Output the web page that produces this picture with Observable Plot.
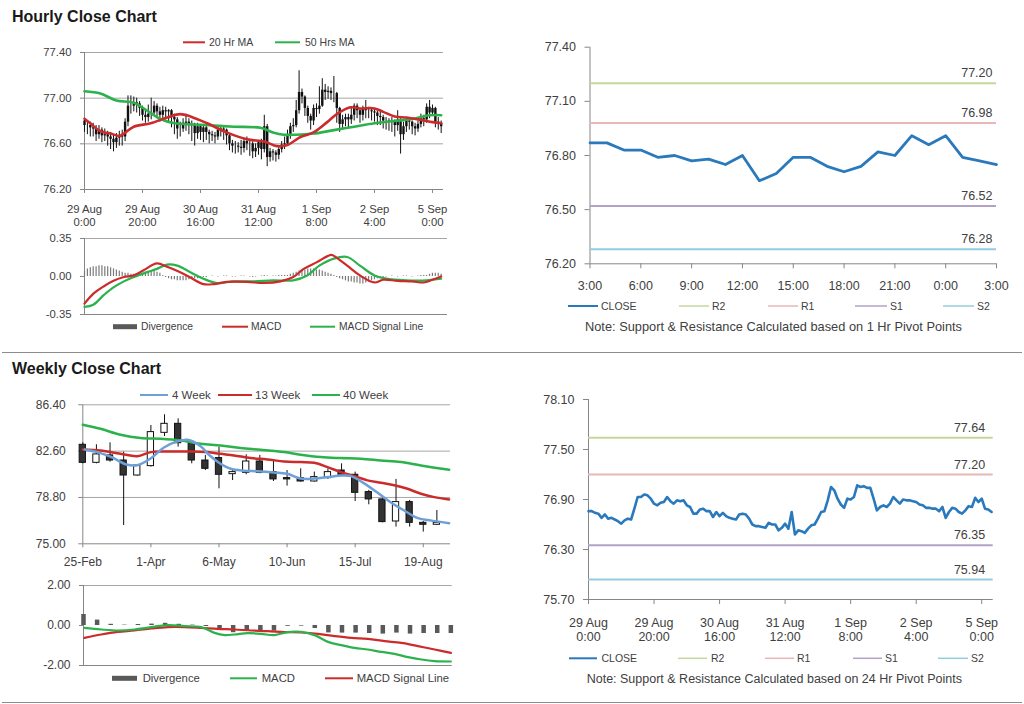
<!DOCTYPE html>
<html>
<head>
<meta charset="utf-8">
<script src="https://cdn.jsdelivr.net/npm/d3@7"></script>
<script src="https://cdn.jsdelivr.net/npm/@observablehq/plot@0.6"></script>
<style>
  html, body { margin: 0; padding: 0; background: #fff; }
  #root { position: relative; width: 1024px; height: 704px; background: #fff; overflow: hidden; }
  #root svg { position: absolute; overflow: visible; }
</style>
</head>
<body>
<div id="root"></div>
<script>
// ---------------- DATA ----------------
// Hourly series (29 Aug 0:00 .. 5 Sep 3:00), 124 bars
const hourOpen0 = 76.80;
const hourClose = [
  76.76, 76.76, 76.74, 76.73, 76.68, 76.72, 76.67, 76.68, 76.66, 76.64,
  76.61, 76.65, 76.67, 76.66, 76.79, 76.93, 76.93, 76.96, 76.95, 76.91,
  76.85, 76.83, 76.86, 76.87, 76.93, 76.88, 76.85, 76.89, 76.88, 76.89,
  76.83, 76.81, 76.73, 76.73, 76.78, 76.79, 76.76, 76.76, 76.69, 76.75,
  76.70, 76.74, 76.70, 76.68, 76.67, 76.66, 76.72, 76.73, 76.72, 76.67,
  76.60, 76.58, 76.58, 76.57, 76.56, 76.62, 76.60, 76.60, 76.53, 76.56,
  76.61, 76.55, 76.75, 76.48, 76.53, 76.52, 76.50, 76.55, 76.59, 76.60,
  76.67, 76.75, 76.76, 76.89, 77.05, 77.01, 76.91, 76.84, 76.80, 76.91,
  76.90, 76.93, 77.07, 77.05, 77.06, 77.04, 77.04, 76.91, 76.77, 76.81,
  76.83, 76.81, 76.85, 76.93, 76.89, 76.85, 76.90, 76.89, 76.89, 76.88,
  76.87, 76.84, 76.83, 76.80, 76.80, 76.79, 76.79, 76.76, 76.81, 76.68,
  76.75, 76.80, 76.79, 76.75, 76.73, 76.77, 76.82, 76.81, 76.92, 76.87,
  76.91, 76.79, 76.78, 76.75
];
const hourHigh = [
  76.82, 76.80, 76.79, 76.78, 76.76, 76.76, 76.74, 76.73, 76.71, 76.70,
  76.68, 76.69, 76.71, 76.72, 76.82, 77.02, 77.02, 77.01, 77.00, 76.97,
  76.93, 76.90, 76.94, 77.00, 76.97, 76.95, 76.92, 76.93, 76.92, 76.90,
  76.90, 76.86, 76.83, 76.79, 76.82, 76.86, 76.82, 76.80, 76.78, 76.78,
  76.77, 76.77, 76.76, 76.72, 76.71, 76.70, 76.75, 76.76, 76.75, 76.73,
  76.68, 76.63, 76.62, 76.61, 76.63, 76.65, 76.66, 76.63, 76.62, 76.60,
  76.63, 76.64, 76.85, 76.77, 76.56, 76.55, 76.54, 76.58, 76.62, 76.66,
  76.72, 76.78, 76.82, 76.98, 77.24, 77.08, 77.02, 76.93, 76.86, 76.94,
  76.95, 77.10, 77.17, 77.12, 77.10, 77.09, 77.19, 77.05, 76.92, 76.85,
  76.86, 76.86, 76.92, 76.95, 76.95, 76.91, 76.93, 76.98, 76.92, 76.91,
  76.91, 76.89, 76.88, 76.85, 76.83, 76.82, 76.83, 76.81, 76.89, 76.82,
  76.79, 76.83, 76.82, 76.80, 76.78, 76.80, 76.86, 76.85, 76.95, 76.98,
  76.94, 76.92, 76.83, 76.80
];
const hourLow = [
  76.70, 76.68, 76.66, 76.66, 76.62, 76.64, 76.61, 76.62, 76.58, 76.55,
  76.53, 76.56, 76.58, 76.58, 76.62, 76.75, 76.86, 76.88, 76.87, 76.84,
  76.80, 76.78, 76.79, 76.81, 76.84, 76.82, 76.79, 76.80, 76.81, 76.79,
  76.74, 76.68, 76.64, 76.66, 76.70, 76.71, 76.68, 76.62, 76.58, 76.64,
  76.63, 76.61, 76.63, 76.60, 76.62, 76.60, 76.63, 76.66, 76.63, 76.59,
  76.54, 76.52, 76.51, 76.52, 76.50, 76.52, 76.54, 76.49, 76.47, 76.48,
  76.50, 76.46, 76.52, 76.40, 76.44, 76.45, 76.44, 76.46, 76.52, 76.55,
  76.58, 76.64, 76.70, 76.74, 76.86, 76.95, 76.84, 76.78, 76.72, 76.76,
  76.83, 76.86, 76.92, 76.98, 76.99, 76.98, 76.96, 76.78, 76.70, 76.72,
  76.75, 76.74, 76.77, 76.80, 76.82, 76.78, 76.80, 76.82, 76.82, 76.80,
  76.79, 76.76, 76.76, 76.73, 76.72, 76.71, 76.70, 76.66, 76.71, 76.51,
  76.63, 76.70, 76.72, 76.68, 76.67, 76.70, 76.74, 76.75, 76.78, 76.82,
  76.84, 76.74, 76.72, 76.69
];
const ma20X = [0, 2, 5.5, 9, 12, 13.6, 17, 22.8, 28.5, 33, 36.5, 42.3, 49, 56, 62, 66.4, 70, 74.5, 79, 83.7, 87, 91.7, 95, 100, 103, 107, 111, 116, 120, 123];
const ma20Y = [76.82, 76.78, 76.71, 76.69, 76.67, 76.69, 76.75, 76.78, 76.83, 76.86, 76.84, 76.78, 76.70, 76.64, 76.62, 76.58, 76.59, 76.66, 76.70, 76.79, 76.86, 76.92, 76.91, 76.91, 76.88, 76.84, 76.83, 76.81, 76.79, 76.78];
const ma50X = [0, 5.5, 11, 17, 21.6, 26, 31, 38, 44.6, 51.5, 60.7, 65, 68.7, 73, 79, 86, 93, 100, 107, 113.6, 119, 123];
const ma50Y = [77.06, 77.04, 76.98, 76.96, 76.89, 76.82, 76.78, 76.77, 76.76, 76.75, 76.74, 76.70, 76.68, 76.68, 76.69, 76.72, 76.75, 76.78, 76.80, 76.82, 76.85, 76.85];
const hourTickIdx = [0, 20, 40, 60, 80, 100, 120];
const hourTickLabels = ["29 Aug\n0:00", "29 Aug\n20:00", "30 Aug\n16:00", "31 Aug\n12:00", "1 Sep\n8:00", "2 Sep\n4:00", "5 Sep\n0:00"];
const hourYTicks = [76.2, 76.6, 77.0, 77.4];

// Hourly MACD
const hDivergence = [
  0.05, 0.07, 0.08, 0.09, 0.09, 0.10, 0.10, 0.09, 0.09, 0.08,
  0.07, 0.06, 0.05, 0.04, 0.03, 0.03, 0.02, 0.02, 0.02, 0.03,
  0.03, 0.04, 0.04, 0.05, 0.05, 0.04, 0.03, 0.01, -0.01, -0.02,
  -0.03, -0.03, -0.04, -0.04, -0.04, -0.04, -0.03, -0.03, -0.02, -0.02,
  -0.01, -0.01, -0.01, 0.00, 0.005, 0.00, -0.005, 0.00, 0.005, 0.005,
  0.00, -0.005, -0.005, 0.00, 0.005, 0.005, 0.00, -0.005, -0.01, -0.005,
  0.00, 0.005, 0.01, 0.005, 0.00, 0.005, 0.005, 0.01, 0.01, 0.01,
  0.01, 0.02, 0.03, 0.04, 0.05, 0.06, 0.06, 0.07, 0.07, 0.07,
  0.06, 0.06, 0.05, 0.04, 0.03, 0.02, 0.01, -0.01, -0.02, -0.03,
  -0.04, -0.05, -0.05, -0.06, -0.06, -0.07, -0.07, -0.06, -0.05, -0.04,
  -0.03, -0.02, -0.01, -0.01, -0.005, 0.00, 0.005, 0.00, -0.005, 0.00,
  0.005, 0.005, 0.00, -0.005, 0.00, 0.005, 0.01, 0.01, 0.01, 0.02,
  0.03, 0.03, 0.03, 0.02
];
const hMacdX = [0, 3, 6.7, 10, 13.6, 17, 20.5, 25, 28.5, 33, 36.5, 41, 44.6, 49, 56, 62, 67.6, 72, 75.6, 80, 85, 86, 90.6, 95, 100, 103, 108, 113, 117, 120, 123];
const hMacdY = [-0.25, -0.16, -0.09, -0.04, -0.005, 0.01, 0.06, 0.12, 0.09, 0.04, -0.01, -0.07, -0.07, -0.05, -0.05, -0.06, -0.045, -0.005, 0.07, 0.13, 0.20, 0.19, 0.10, 0.01, -0.055, -0.03, -0.04, -0.045, -0.055, -0.03, 0.00];
const hSignalX = [0, 3, 6.7, 10, 13.6, 17, 21.6, 25, 28.5, 32, 36.5, 41, 45.7, 51.5, 58.4, 65, 72, 76.8, 81, 86, 90.6, 95, 100, 104, 111, 118, 123];
const hSignalY = [-0.28, -0.26, -0.17, -0.10, -0.045, -0.005, 0.04, 0.07, 0.11, 0.10, 0.04, -0.02, -0.06, -0.045, -0.045, -0.035, -0.035, 0.01, 0.10, 0.165, 0.18, 0.10, 0.01, -0.02, -0.035, -0.035, -0.02];
const hMacdTicks = [-0.35, 0, 0.35];

// 1 Hr pivot chart (last 24 hours)
const pivotHourClose = [76.87, 76.87, 76.83, 76.83, 76.79, 76.80, 76.77, 76.78, 76.75, 76.80, 76.66, 76.70, 76.79, 76.79, 76.74, 76.71, 76.74, 76.82, 76.80, 76.91, 76.86, 76.91, 76.79, 76.77, 76.75];
const pivotHourTickIdx = [0, 3, 6, 9, 12, 15, 18, 21, 24];
const pivotHourTickLabels = ["3:00", "6:00", "9:00", "12:00", "15:00", "18:00", "21:00", "0:00", "3:00"];
const pivotHourYTicks = [76.2, 76.5, 76.8, 77.1, 77.4];
const levelNames = ["R2", "R1", "S1", "S2"];
const levelColors = ["#c4d79b", "#e6b9b8", "#b3a2c7", "#93cddd"];
const levels1Hr = [77.20, 76.98, 76.52, 76.28];
const levels24Hr = [77.64, 77.20, 76.35, 75.94];
const pivotDayYTicks = [75.7, 76.3, 76.9, 77.5, 78.1];

// Weekly candles (25-Feb .. 26-Aug)
const weekOpen  = [83.12, 81.64, 82.25, 81.83, 80.60, 81.37, 84.10, 84.84, 83.20, 81.83, 82.03, 80.71, 80.82, 81.75, 80.88, 80.39, 80.39, 80.11, 80.39, 81.01, 80.66, 79.24, 78.64, 76.83, 78.42, 76.72, 76.56];
const weekClose = [81.64, 82.33, 81.83, 80.60, 81.42, 84.16, 84.84, 83.25, 81.83, 81.15, 80.66, 80.88, 81.75, 80.82, 80.28, 80.28, 80.11, 80.47, 80.88, 80.66, 79.18, 78.64, 76.78, 78.42, 76.72, 76.56, 76.72];
const weekHigh  = [83.28, 83.12, 83.28, 82.52, 81.50, 84.70, 85.58, 85.25, 83.39, 82.25, 82.93, 81.15, 82.30, 82.25, 81.75, 81.01, 81.15, 80.88, 81.15, 81.56, 80.88, 79.38, 78.75, 80.28, 78.56, 76.83, 77.73];
const weekLow   = [81.56, 81.56, 81.70, 76.50, 80.55, 81.29, 83.80, 82.93, 81.56, 81.01, 79.51, 80.19, 80.66, 80.74, 80.11, 79.73, 80.06, 80.06, 80.28, 80.60, 78.47, 78.20, 76.72, 76.37, 76.37, 75.96, 76.50];
const w4X = [0.15, 1.05, 2.03, 3.2, 4.0, 4.98, 5.96, 6.94, 7.7, 8.65, 9.26, 10, 10.86, 11.84, 12.82, 14.04, 15, 16, 17, 18, 19, 19.7, 20.6, 21.6, 22.6, 23.6, 24.6, 25.6, 26.9];
const w4Y = [82.74, 82.52, 82.15, 81.5, 81.45, 82.0, 82.9, 83.4, 83.53, 83.0, 82.3, 81.65, 81.15, 81.0, 80.95, 80.85, 80.74, 80.35, 80.35, 80.47, 80.6, 80.55, 80.0, 79.23, 78.41, 77.73, 77.1, 76.9, 76.69];
const w13X = [0, 1.3, 2.77, 4.0, 4.98, 6.2, 7.67, 9.14, 10.12, 11.1, 12.33, 13.55, 14.78, 16, 17, 17.97, 18.95, 19.93, 20.9, 21.89, 22.87, 23.85, 24.83, 25.81, 26.9];
const w13Y = [82.74, 82.65, 82.38, 82.19, 82.52, 82.57, 82.57, 82.52, 82.38, 82.25, 82.03, 81.92, 81.75, 81.70, 81.64, 81.29, 80.88, 80.55, 80.20, 80.00, 79.80, 79.51, 79.10, 78.83, 78.64];
const w40X = [0, 1.3, 2.77, 4.24, 5.71, 7.18, 8.65, 10.12, 11.6, 13.06, 14.78, 16, 17.48, 18.95, 20.42, 21.89, 23.36, 24.83, 26.9];
const w40Y = [84.76, 84.43, 83.94, 83.67, 83.61, 83.47, 83.20, 83.06, 82.85, 82.71, 82.52, 82.30, 82.11, 82.03, 81.97, 81.83, 81.70, 81.42, 81.07];
const weekTickIdx = [0, 5, 10, 15, 20, 25];
const weekTickLabels = ["25-Feb", "1-Apr", "6-May", "10-Jun", "15-Jul", "19-Aug"];
const weekYTicks = [75.0, 78.8, 82.6, 86.4];

// Weekly MACD
const wDivergence = [0.55, 0.27, 0.06, 0.02, 0.05, 0.07, 0.11, 0.06, 0.02, -0.05, -0.25, -0.36, -0.28, -0.26, -0.28, -0.04, -0.03, -0.15, -0.37, -0.38, -0.38, -0.40, -0.43, -0.38, -0.43, -0.40, -0.40, -0.40];
const wMacdX = [0.07, 1.3, 2.52, 3.75, 4.98, 6.2, 7.43, 8.65, 9.63, 10.37, 11.1, 12.08, 13.06, 14.04, 15.02, 16, 16.99, 17.97, 18.95, 19.93, 20.9, 21.89, 22.87, 23.85, 24.83, 25.81, 27];
const wMacdY = [-0.12, -0.2, -0.25, -0.2, -0.08, 0.02, -0.03, -0.08, -0.37, -0.48, -0.45, -0.38, -0.42, -0.48, -0.33, -0.32, -0.48, -0.82, -0.98, -1.12, -1.2, -1.32, -1.42, -1.58, -1.70, -1.78, -1.80];
const wSignalX = [0.07, 1.3, 2.52, 3.75, 4.98, 6.2, 7.43, 8.65, 9.88, 11.1, 12.33, 13.55, 14.78, 16, 17.23, 18.46, 19.68, 20.9, 22.13, 23.36, 24.58, 25.81, 27];
const wSignalY = [-0.62, -0.45, -0.32, -0.25, -0.15, -0.08, -0.08, -0.12, -0.17, -0.2, -0.25, -0.28, -0.33, -0.35, -0.42, -0.53, -0.62, -0.67, -0.78, -0.87, -1.03, -1.2, -1.37];
const wMacdTicks = [-2, 0, 2];

// ---------------- STYLE ----------------
const FONT = "'Liberation Sans', Arial, Helvetica, sans-serif";
const TXT = "#404040";
const AXIS = "#868686";
const GRID = "#a6a6a6";
const RED = "#cc2b2b";
const GREEN = "#2bb24c";
const BLUE = "#2a79bd";
const LBLUE = "#6e9fd6";

const root = document.getElementById("root");
function place(svg, left, top) {
  svg.style.left = left + "px";
  svg.style.top = top + "px";
  root.appendChild(svg);
}
function st(size) {
  return {fontFamily: FONT, fontSize: size + "px", color: TXT, background: "transparent", overflow: "visible"};
}
const pts = (xs, ys) => xs.map((x, i) => ({x, y: ys[i]}));
const fmt2 = d => d.toFixed(2);

// ---------- Panel 1: hourly candles ----------
const hourly = hourClose.map((c, i) => ({
  i, close: c, open: i ? hourClose[i - 1] : hourOpen0, high: hourHigh[i], low: hourLow[i]
}));
place(Plot.plot({
  width: 460, height: 210,
  marginLeft: 84, marginRight: 17, marginTop: 22, marginBottom: 51,
  x: {domain: [0, 123.8], label: null},
  y: {domain: [76.2, 77.4], label: null},
  style: st(11.3),
  marks: [
    Plot.gridY([76.6, 77.0, 77.4], {stroke: GRID, strokeOpacity: 1}),
    Plot.ruleX([0], {stroke: AXIS}),
    Plot.ruleY([76.2], {stroke: AXIS}),
    Plot.axisY({ticks: hourYTicks, tickSize: 4, tickPadding: 9, tickFormat: fmt2, stroke: AXIS, label: null}),
    Plot.axisX({ticks: hourTickIdx, tickSize: 4, tickPadding: 10, lineHeight: 1.19, stroke: AXIS, label: null,
      tickFormat: d => hourTickLabels[hourTickIdx.indexOf(d)]}),
    Plot.ruleX(hourly, {x: "i", y1: "low", y2: "high", stroke: "#111", strokeWidth: 1}),
    Plot.ruleX(hourly, {x: "i", y1: "open", y2: "close", stroke: "#111", strokeWidth: 2.4}),
    Plot.line(pts(ma50X, ma50Y), {x: "x", y: "y", stroke: GREEN, strokeWidth: 2.6, curve: "catmull-rom"}),
    Plot.line(pts(ma20X, ma20Y), {x: "x", y: "y", stroke: RED, strokeWidth: 2.6, curve: "catmull-rom"})
  ]
}), 0, 30);

// ---------- Panel 2: hourly MACD ----------
place(Plot.plot({
  width: 460, height: 95,
  marginLeft: 84, marginRight: 13, marginTop: 8, marginBottom: 11,
  x: {domain: [0, 125.2], axis: null, label: null},
  y: {domain: [-0.35, 0.35], label: null},
  style: st(11.3),
  marks: [
    Plot.gridY([0.35], {stroke: GRID, strokeOpacity: 1}),
    Plot.ruleX([0], {stroke: AXIS}),
    Plot.ruleY([-0.35], {stroke: AXIS}),
    Plot.axisY({ticks: hMacdTicks, tickSize: 4, tickPadding: 9, tickFormat: fmt2, stroke: AXIS, label: null}),
    Plot.ruleX(hDivergence.map((v, i) => ({i, v})), {x: "i", y1: 0, y2: "v", stroke: "#7a7a7a", strokeWidth: 1.2}),
    Plot.line(pts(hSignalX, hSignalY), {x: "x", y: "y", stroke: GREEN, strokeWidth: 2.2, curve: "catmull-rom"}),
    Plot.line(pts(hMacdX, hMacdY), {x: "x", y: "y", stroke: RED, strokeWidth: 2.2, curve: "catmull-rom"})
  ]
}), 0, 230);

// ---------- Panel 3: 1 Hr pivot ----------
const lv1 = levels1Hr.map((v, i) => ({v, c: levelColors[i]}));
place(Plot.plot({
  width: 504, height: 280,
  marginLeft: 69.5, marginRight: 28, marginTop: 16.7, marginBottom: 46.7,
  x: {domain: [0, 24], label: null},
  y: {domain: [76.2, 77.4], label: null},
  color: {type: "identity"},
  style: st(12.5),
  marks: [
    Plot.ruleX([0], {stroke: AXIS}),
    Plot.ruleY([76.2], {stroke: AXIS}),
    Plot.axisY({ticks: pivotHourYTicks, tickSize: 5, tickPadding: 9, tickFormat: fmt2, stroke: AXIS, label: null}),
    Plot.axisX({ticks: pivotHourTickIdx, tickSize: 5, tickPadding: 12, stroke: AXIS, label: null,
      tickFormat: d => pivotHourTickLabels[pivotHourTickIdx.indexOf(d)]}),
    Plot.ruleY(lv1, {y: "v", stroke: "c", strokeWidth: 2}),
    Plot.text(lv1, {y: "v", text: d => fmt2(d.v), frameAnchor: "right", textAnchor: "end", dx: -4, dy: -10, fill: TXT}),
    Plot.line(pivotHourClose.map((v, i) => ({i, v})), {x: "i", y: "v", stroke: BLUE, strokeWidth: 2.8})
  ]
}), 520, 30);

// ---------- Panel 4: weekly candles ----------
const weekly = weekClose.map((c, k) => ({k, open: weekOpen[k], close: c, high: weekHigh[k], low: weekLow[k]}));
place(Plot.plot({
  width: 470, height: 200,
  marginLeft: 82.3, marginRight: 20, marginTop: 24.3, marginBottom: 36.7,
  x: {domain: [0, 27], label: null},
  y: {domain: [75.0, 86.4], label: null},
  color: {type: "identity"},
  style: st(12),
  marks: [
    Plot.gridY([78.8, 82.6, 86.4], {stroke: GRID, strokeOpacity: 1}),
    Plot.ruleX([0], {stroke: AXIS}),
    Plot.ruleY([75.0], {stroke: AXIS}),
    Plot.axisY({ticks: weekYTicks, tickSize: 4, tickPadding: 13, tickFormat: fmt2, stroke: AXIS, label: null}),
    Plot.axisX({ticks: weekTickIdx, tickSize: 4, tickPadding: 10, stroke: AXIS, label: null,
      tickFormat: d => weekTickLabels[weekTickIdx.indexOf(d)]}),
    Plot.ruleX(weekly, {x: "k", y1: "low", y2: "high", stroke: "#111", strokeWidth: 1}),
    Plot.rect(weekly, {x1: d => d.k - 0.23, x2: d => d.k + 0.23, y1: "open", y2: "close",
      fill: d => d.close >= d.open ? "#ffffff" : "#333333", stroke: "#111", strokeWidth: 1}),
    Plot.line(pts(w40X, w40Y), {x: "x", y: "y", stroke: GREEN, strokeWidth: 2.5, curve: "catmull-rom"}),
    Plot.line(pts(w13X, w13Y), {x: "x", y: "y", stroke: RED, strokeWidth: 2.5, curve: "catmull-rom"}),
    Plot.line(pts(w4X, w4Y), {x: "x", y: "y", stroke: LBLUE, strokeWidth: 2.5, curve: "catmull-rom"})
  ]
}), 0, 380);

// ---------- Panel 5: weekly MACD ----------
place(Plot.plot({
  width: 470, height: 95,
  marginLeft: 83, marginRight: 18.3, marginTop: 10, marginBottom: 5,
  x: {domain: [0, 27.1], axis: null, label: null},
  y: {domain: [-2, 2], label: null},
  style: st(12),
  marks: [
    Plot.gridY([2], {stroke: GRID, strokeOpacity: 1}),
    Plot.ruleX([0], {stroke: AXIS}),
    Plot.ruleY([-2], {stroke: AXIS}),
    Plot.axisY({ticks: wMacdTicks, tickSize: 4, tickPadding: 9, tickFormat: fmt2, stroke: AXIS, label: null}),
    Plot.ruleX(wDivergence.map((v, k) => ({k, v})), {x: "k", y1: 0, y2: "v", stroke: "#595959", strokeWidth: 4.5}),
    Plot.line(pts(wSignalX, wSignalY), {x: "x", y: "y", stroke: RED, strokeWidth: 2.2, curve: "catmull-rom"}),
    Plot.line(pts(wMacdX, wMacdY), {x: "x", y: "y", stroke: GREEN, strokeWidth: 2.2, curve: "catmull-rom"})
  ]
}), 0, 575);

// ---------- Panel 6: 24 Hr pivot ----------
const lv24 = levels24Hr.map((v, i) => ({v, c: levelColors[i]}));
place(Plot.plot({
  width: 504, height: 260,
  marginLeft: 68, marginRight: 31.3, marginTop: 14, marginBottom: 46,
  x: {domain: [0, 123.5], label: null},
  y: {domain: [75.7, 78.1], label: null},
  color: {type: "identity"},
  style: st(12.5),
  marks: [
    Plot.ruleX([0], {stroke: AXIS}),
    Plot.ruleY([75.7], {stroke: AXIS}),
    Plot.axisY({ticks: pivotDayYTicks, tickSize: 5, tickPadding: 9, tickFormat: fmt2, stroke: AXIS, label: null}),
    Plot.axisX({ticks: hourTickIdx, tickSize: 5, tickPadding: 12, lineHeight: 1.15, stroke: AXIS, label: null,
      tickFormat: d => hourTickLabels[hourTickIdx.indexOf(d)]}),
    Plot.ruleY(lv24, {y: "v", stroke: "c", strokeWidth: 2}),
    Plot.text(lv24, {y: "v", text: d => fmt2(d.v), frameAnchor: "right", textAnchor: "end", dx: -8, dy: -10, fill: TXT}),
    Plot.line(hourClose.map((v, i) => ({i, v})), {x: "i", y: "v", stroke: BLUE, strokeWidth: 2.6})
  ]
}), 520, 385);

// ---------- Overlay: titles, separators, legends, notes ----------
const ov = d3.create("svg").attr("width", 1024).attr("height", 704)
  .style("left", "0px").style("top", "0px").style("font-family", FONT);
ov.append("text").attr("x", 12).attr("y", 21.5).attr("font-size", 16).attr("font-weight", "bold")
  .attr("fill", "#1a1a1a").text("Hourly Close Chart");
ov.append("text").attr("x", 12).attr("y", 374).attr("font-size", 16).attr("font-weight", "bold")
  .attr("fill", "#1a1a1a").text("Weekly Close Chart");
ov.append("line").attr("x1", 2).attr("x2", 1022).attr("y1", 352.5).attr("y2", 352.5).attr("stroke", "#8c8c8c");
ov.append("line").attr("x1", 2).attr("x2", 1022).attr("y1", 702.5).attr("y2", 702.5).attr("stroke", "#8c8c8c");

function legend(items, y, size) {
  for (const it of items) {
    if (it.type === "bar") {
      ov.append("rect").attr("x", it.x1).attr("y", y - 2.5).attr("width", it.x2 - it.x1).attr("height", 5).attr("fill", it.color);
    } else {
      ov.append("line").attr("x1", it.x1).attr("x2", it.x2).attr("y1", y).attr("y2", y)
        .attr("stroke", it.color).attr("stroke-width", it.w || 2);
    }
    ov.append("text").attr("x", it.tx).attr("y", y).attr("dy", "0.35em").attr("font-size", size)
      .attr("fill", TXT).text(it.label);
  }
}
legend([
  {x1: 183, x2: 205, tx: 209, color: RED, label: "20 Hr MA"},
  {x1: 275, x2: 300, tx: 305, color: GREEN, label: "50 Hrs MA"}
], 42.3, 10.5);
legend([
  {type: "bar", x1: 113, x2: 137, tx: 141, color: "#595959", label: "Divergence"},
  {x1: 222, x2: 248, tx: 251, color: RED, label: "MACD"},
  {x1: 310, x2: 335, tx: 339, color: GREEN, label: "MACD Signal Line"}
], 326.7, 10.3);
const pivLegend = (y, xs) => legend([
  {x1: xs[0][0], x2: xs[0][1], tx: xs[0][2], color: BLUE, label: "CLOSE"},
  ...levelNames.map((n, i) => ({x1: xs[i + 1][0], x2: xs[i + 1][1], tx: xs[i + 1][2], color: levelColors[i], label: n, w: 1.5}))
], y, 10.5);
pivLegend(306, [[568, 598, 601], [679, 709, 712], [768, 798, 801], [855, 887, 890], [943, 974, 977]]);
pivLegend(658.3, [[569, 597, 601.5], [678, 707, 711], [765, 794, 797], [853, 882, 885], [938, 968, 971]]);
ov.append("text").attr("x", 585).attr("y", 326.7).attr("dy", "0.35em").attr("font-size", 12.8).attr("fill", TXT)
  .text("Note: Support & Resistance Calculated based on 1 Hr Pivot Points");
ov.append("text").attr("x", 586.7).attr("y", 679).attr("dy", "0.35em").attr("font-size", 12.5).attr("fill", TXT)
  .text("Note: Support & Resistance Calculated based on 24 Hr Pivot Points");
legend([
  {x1: 140, x2: 168, tx: 172, color: LBLUE, label: "4 Week"},
  {x1: 218, x2: 252, tx: 255, color: RED, label: "13 Week"},
  {x1: 312, x2: 340, tx: 343, color: GREEN, label: "40 Week"}
], 395, 11.5);
legend([
  {type: "bar", x1: 112, x2: 137, tx: 142.7, color: "#595959", label: "Divergence"},
  {x1: 230, x2: 257, tx: 261.7, color: GREEN, label: "MACD"},
  {x1: 325, x2: 353, tx: 356.7, color: RED, label: "MACD Signal Line"}
], 678.3, 11.3);
root.insertBefore(ov.node(), root.firstChild);
</script>
</body>
</html>
